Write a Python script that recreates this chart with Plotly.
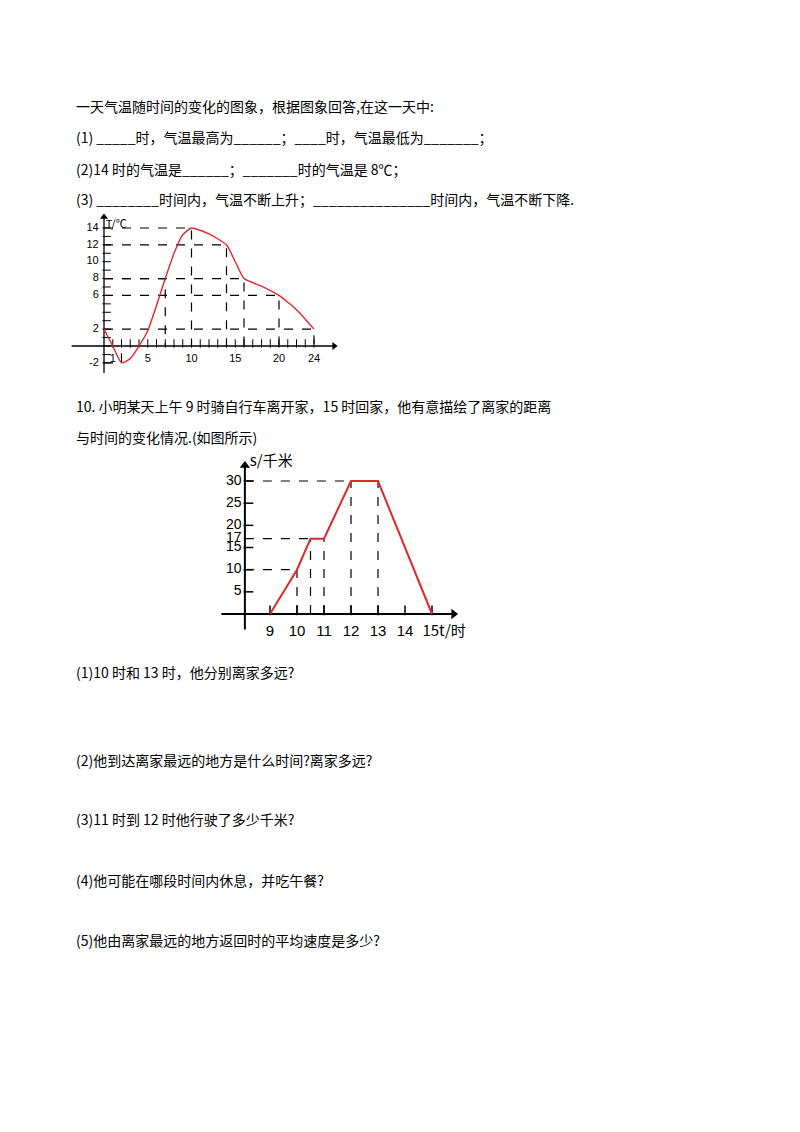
import plotly.graph_objects as go

W, H = 800, 1132
OX, OY = -9, -9  # page offset of the browser body margin

# chart 1: temperature over a day
temp_t = [0, 1, 2, 3, 4, 5, 6, 7, 8, 9, 10, 12, 14, 15, 16, 18, 20, 22, 24]
temp_v = [2, 0, -2, -1.5, 0, 1.8, 4.8, 8, 11, 13.2, 14, 13.3, 12, 10, 8, 7.1, 6, 4.3, 2]
guide1_t = [2, 7, 10, 14, 16, 20, 24]
guide1_v = [-2, 8, 14, 12, 8, 6, 2]
y1_labels = [14, 12, 10, 8, 6, 2, -2]
x1_labels = [1, 5, 10, 15, 20, 24]

# chart 2: distance from home
dist_t = [9, 10, 10.5, 11, 12, 13, 15]
dist_s = [0, 10, 17, 17, 30, 30, 0]
guide2_t = [10, 10.5, 11, 12, 13]
guide2_s = [10, 17, 17, 30, 30]
y2_labels = [5, 10, 15, 17, 20, 25, 30]
x2_labels = [9, 10, 11, 12, 13, 14]

lines = [
    (107, "一天气温随时间的变化的图象，根据图象回答,在这一天中:"),
    (138, "(1) _____时，气温最高为______；____时，气温最低为_______；"),
    (170, "(2)14 时的气温是______；_______时的气温是 8℃；"),
    (200, "(3) ________时间内，气温不断上升；_______________时间内，气温不断下降."),
    (407, "10. 小明某天上午 9 时骑自行车离开家，15 时回家，他有意描绘了离家的距离"),
    (438, "与时间的变化情况.(如图所示)"),
    (673, "(1)10 时和 13 时，他分别离家多远?"),
    (761, "(2)他到达离家最远的地方是什么时间?离家多远?"),
    (820, "(3)11 时到 12 时他行驶了多少千米?"),
    (881, "(4)他可能在哪段时间内休息，并吃午餐?"),
    (941, "(5)他由离家最远的地方返回时的平均速度是多少?"),
]

fig = go.Figure()
RED = "#e0282a"
DASH = dict(color="black", width=1.2, dash="dash")
AX = dict(color="black", width=1.3)


def px_(p):
    return (p + OX) / W


def py(p):
    return 1 - (p + OY) / H


# ---- chart 1 ----
x1 = dict(xaxis="x", yaxis="y", cliponaxis=False)
for t, v in zip(guide1_t, guide1_v):
    fig.add_trace(go.Scatter(x=[0, t, t], y=[v, v, 0], mode="lines", line=DASH, **x1))
fig.add_trace(go.Scatter(x=[-3.7, 26.3], y=[0, 0], mode="lines", line=AX, **x1))
fig.add_trace(go.Scatter(x=[0, 0], y=[-3.2, 15.3], mode="lines", line=AX, **x1))
fig.add_trace(go.Scatter(x=[26.3], y=[0], mode="markers", marker=dict(symbol="triangle-right", size=7, color="black"), **x1))
fig.add_trace(go.Scatter(x=[0], y=[15.3], mode="markers", marker=dict(symbol="triangle-up", size=7, color="black"), **x1))
fig.add_trace(go.Scatter(x=list(range(1, 25)), y=[0.3] * 24, mode="markers",
                         marker=dict(symbol="line-ns", size=6, line=dict(width=1, color="black")), **x1))
fig.add_trace(go.Scatter(x=[0.3] * 17, y=list(range(-2, 15)), mode="markers",
                         marker=dict(symbol="line-ew", size=6, line=dict(width=1, color="black")), **x1))
fig.add_trace(go.Scatter(x=temp_t, y=temp_v, mode="lines",
                         line=dict(color=RED, width=1.4, shape="spline", smoothing=0.5), **x1))
fig.add_trace(go.Scatter(x=[-0.6] * len(y1_labels), y=y1_labels, mode="text", text=[str(v) for v in y1_labels],
                         textposition="middle left", textfont=dict(size=11, family="Arial", color="black"), **x1))
fig.add_trace(go.Scatter(x=x1_labels, y=[-1.6] * len(x1_labels), mode="text", text=[str(v) for v in x1_labels],
                         textfont=dict(size=11, family="Arial", color="black"), **x1))
fig.add_trace(go.Scatter(x=[27.6, 1.4], y=[-1.6, 14.3], mode="text", text=["t/时", "T/℃"],
                         textfont=dict(size=11, family="Noto Sans CJK SC", color="black"), **x1))

# ---- chart 2 ----
x2 = dict(xaxis="x2", yaxis="y2", cliponaxis=False)
for t, s in zip(guide2_t, guide2_s):
    fig.add_trace(go.Scatter(x=[t, t], y=[0, s], mode="lines", line=DASH, **x2))
for t, s in [(12, 30), (10.5, 17), (10, 10)]:
    fig.add_trace(go.Scatter(x=[8.07, t], y=[s, s], mode="lines", line=DASH, **x2))
fig.add_trace(go.Scatter(x=[7.2, 15.8], y=[0, 0], mode="lines", line=dict(color="black", width=2), **x2))
fig.add_trace(go.Scatter(x=[8.07, 8.07], y=[-3.5, 33.5], mode="lines", line=dict(color="black", width=2), **x2))
fig.add_trace(go.Scatter(x=[15.8], y=[0], mode="markers", marker=dict(symbol="triangle-right", size=9, color="black"), **x2))
fig.add_trace(go.Scatter(x=[8.07], y=[33.5], mode="markers", marker=dict(symbol="triangle-up", size=9, color="black"), **x2))
fig.add_trace(go.Scatter(x=list(range(9, 16)), y=[0.8] * 7, mode="markers",
                         marker=dict(symbol="line-ns", size=7, line=dict(width=1.5, color="black")), **x2))
fig.add_trace(go.Scatter(x=[8.2] * 6, y=[5, 10, 15, 20, 25, 30], mode="markers",
                         marker=dict(symbol="line-ew", size=7, line=dict(width=1.5, color="black")), **x2))
fig.add_trace(go.Scatter(x=dist_t, y=dist_s, mode="lines", line=dict(color=RED, width=2), **x2))
fig.add_trace(go.Scatter(x=[7.95] * len(y2_labels), y=y2_labels, mode="text", text=[str(v) for v in y2_labels],
                         textposition="middle left", textfont=dict(size=14, family="Arial", color="black"), **x2))
fig.add_trace(go.Scatter(x=x2_labels, y=[-4.2] * len(x2_labels), mode="text", text=[str(v) for v in x2_labels],
                         textfont=dict(size=15, family="Arial", color="black"), **x2))
fig.add_trace(go.Scatter(x=[15.45], y=[-4.2], mode="text", text=["15t/时"],
                         textfont=dict(size=15, family="Noto Sans CJK SC", color="black"), **x2))
fig.add_trace(go.Scatter(x=[8.25], y=[34.3], mode="text", text=["s/千米"], textposition="middle right",
                         textfont=dict(size=15, family="Noto Sans CJK SC", color="black"), **x2))

for y, txt in lines:
    fig.add_annotation(x=px_(75), y=py(y), xref="paper", yref="paper", text=txt, showarrow=False,
                       xanchor="left", yanchor="middle", font=dict(size=14, family="Noto Sans CJK SC", color="black"))

hide = dict(visible=False, fixedrange=True)
fig.update_layout(
    width=W, height=H, margin=dict(l=0, r=0, t=0, b=0),
    paper_bgcolor="white", plot_bgcolor="white", showlegend=False,
    xaxis=dict(domain=[px_(60), px_(340)], range=[(60 - 105) / 8.75, (340 - 105) / 8.75], **hide),
    yaxis=dict(domain=[py(380), py(210)], range=[(347 - 380) / 8.43, (347 - 210) / 8.43], **hide),
    xaxis2=dict(domain=[px_(200), px_(490)], range=[9 + (200 - 271) / 27, 9 + (490 - 271) / 27], **hide),
    yaxis2=dict(domain=[py(650), py(455)], range=[(615 - 650) / 4.433, (615 - 455) / 4.433], **hide),
)

fig.write_html("out.html")
